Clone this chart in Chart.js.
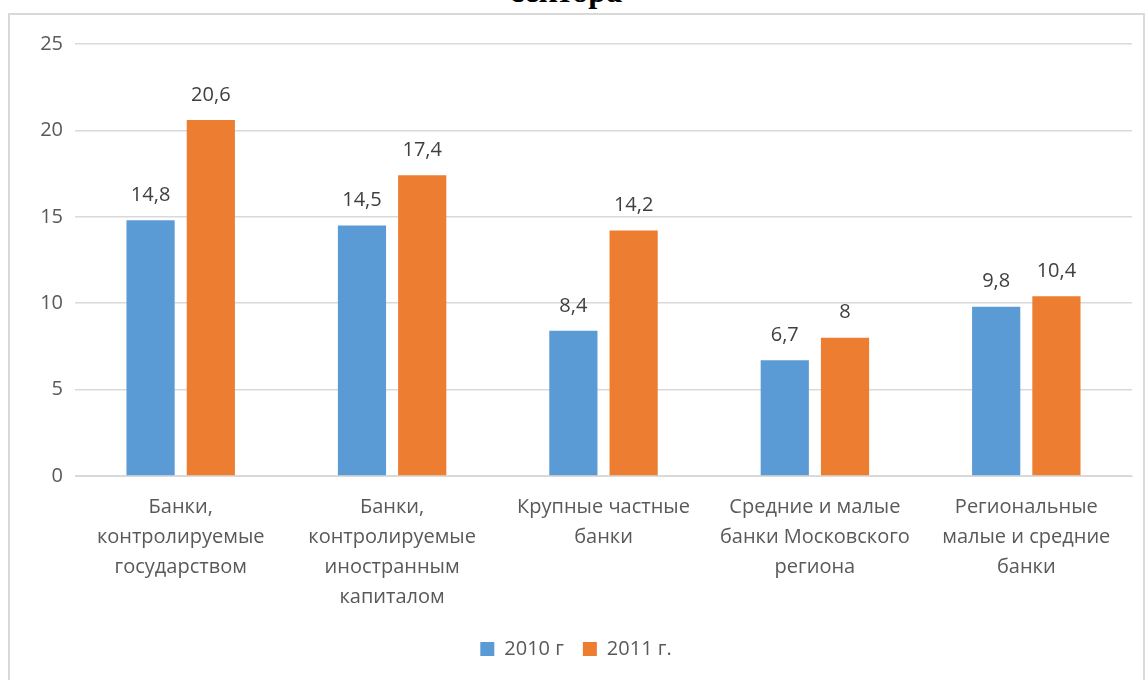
<!DOCTYPE html>
<html>
<head>
<meta charset="utf-8">
<script src="https://cdn.jsdelivr.net/npm/chart.js@4/dist/chart.umd.min.js"></script>
<style>
  body { margin: 0; background: #fff; overflow: hidden; }
  #title {
    position: absolute; left: 0; width: 1132px; top: -25px;
    text-align: center; font: bold 32px "Liberation Serif", serif; line-height: 32px; color: #000;
  }
  #box {
    position: absolute; left: 8px; top: 13px; width: 1137px; height: 670px;
    border: 2px solid #d9d9d9; box-sizing: border-box; background: #fff;
  }
  #wrap { position: absolute; left: 0; top: 0; width: 1135px; height: 668px; }
</style>
</head>
<body>
<div id="box"><div id="wrap"><canvas id="bankChart"></canvas></div></div>
<div id="title">сектора</div>
<script>
const categories = [
  ["Банки,", "контролируемые", "государством"],
  ["Банки,", "контролируемые", "иностранным", "капиталом"],
  ["Крупные частные", "банки"],
  ["Средние и малые", "банки Московского", "региона"],
  ["Региональные", "малые и средние", "банки"]
];
const values2010 = [14.8, 14.5, 8.4, 6.7, 9.8];
const values2011 = [20.6, 17.4, 14.2, 8, 10.4];
const seriesNames = ["2010 г", "2011 г."];
const yTicks = [0, 5, 10, 15, 20, 25];

// draws value labels above each bar, with a comma as decimal mark
const valueLabels = {
  id: "valueLabels",
  afterDatasetsDraw(chart) {
    const ctx = chart.ctx;
    ctx.save();
    ctx.font = "20px 'Open Sans', sans-serif";
    ctx.fillStyle = "#404040";
    ctx.textAlign = "center";
    ctx.textBaseline = "middle";
    chart.data.datasets.forEach((ds, i) => {
      chart.getDatasetMeta(i).data.forEach((bar, j) => {
        const txt = String(ds.data[j]).replace(".", ",");
        ctx.fillText(txt, bar.x, bar.y - 25);
      });
    });
    ctx.restore();
  }
};

new Chart("bankChart", {
  type: "bar",
  data: {
    labels: categories,
    datasets: [
      { label: seriesNames[0], data: values2010, backgroundColor: "#5b9bd5" },
      { label: seriesNames[1], data: values2011, backgroundColor: "#ed7d31" }
    ]
  },
  options: {
    responsive: true,
    maintainAspectRatio: false,
    animation: false,
    categoryPercentage: 0.57,
    barPercentage: 0.8,
    layout: { padding: { top: 29, right: 13, left: 10, bottom: 14 } },
    plugins: {
      legend: {
        position: "bottom",
        labels: {
          boxWidth: 14, boxHeight: 14, padding: 19,
          color: "#595959",
          font: { size: 20, family: "'Open Sans', sans-serif" }
        }
      },
      tooltip: { enabled: false }
    },
    scales: {
      x: {
        grid: { display: false },
        border: { color: "#d9d9d9" },
        ticks: {
          color: "#595959",
          padding: 8,
          maxRotation: 0,
          font: { size: 20, family: "'Open Sans', sans-serif", lineHeight: 1.5 }
        }
      },
      y: {
        min: 0, max: 25,
        afterFit(scale) { scale.width = 55; },
        afterBuildTicks(scale) { scale.ticks = yTicks.map(v => ({ value: v })); },
        border: { display: false },
        grid: { color: "#d9d9d9", lineWidth: 1.5, drawTicks: false },
        ticks: {
          color: "#595959",
          padding: 12,
          font: { size: 20, family: "'Open Sans', sans-serif" }
        }
      }
    }
  },
  plugins: [valueLabels]
});
</script>
</body>
</html>
